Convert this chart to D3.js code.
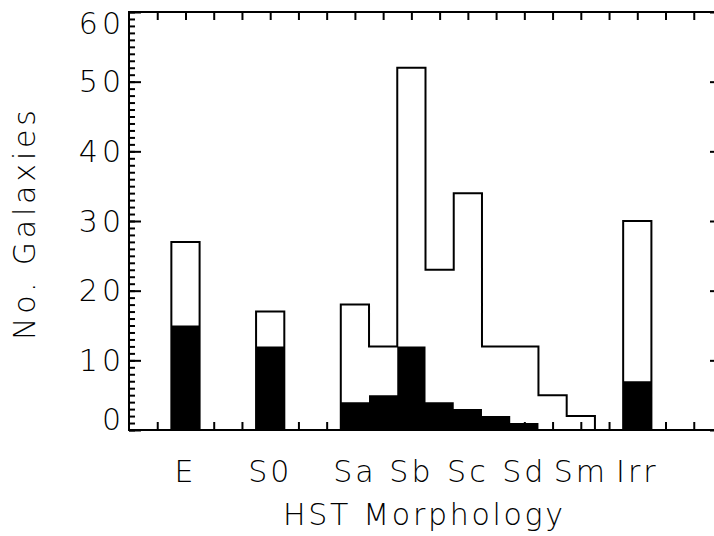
<!DOCTYPE html>
<html><head><meta charset="utf-8">
<script src="https://cdn.jsdelivr.net/npm/d3@7"></script>
<style>
html,body{margin:0;padding:0;background:#fff;}
svg{display:block;}
text{font-family:"DejaVu Sans",sans-serif;font-weight:200;fill:#000;}
</style></head>
<body>
<script>
// bin index (0..20) along the x axis
const bins = d3.range(0, 21);
// total number of galaxies per bin (open histogram)
const totalCounts = [0,0,27,0,0,17,0,0,18,12,52,23,34,12,12,5,2,0,30,0,0];
// sub-sample per bin (filled histogram)
const filledCounts = [0,0,15,0,0,12,0,0,4,5,12,4,3,2,1,0,0,0,7,0,0];
// category labels and the bins they sit under
const tickLabels = ["E","S0","Sa","Sb","Sc","Sd","Sm","Irr"];
const tickBins = [2,5,8,10,12,14,16,18];
const yTicks = [0,10,20,30,40,50,60];

const W = 714, H = 536;
const m = {left:129, top:12, right:722, bottom:430};
const FONT = '"DejaVu Sans",sans-serif';

const svg = d3.select("body").append("svg").attr("width",W).attr("height",H);

const x = d3.scaleLinear().domain([0,21]).range([m.left,m.right]);
const y = d3.scaleLinear().domain([0,60]).range([m.bottom,m.top]);

function stepPoints(vals){
  const pts = [];
  vals.forEach((v,i)=>{ pts.push([Math.max(0,bins[i]-0.5), v]); pts.push([bins[i]+0.5, v]); });
  return pts;
}

// filled histogram
const area = d3.area().x(d=>x(d[0])).y0(y(0)).y1(d=>y(d[1]));
svg.append("path").datum(stepPoints(filledCounts))
  .attr("d",area).attr("fill","#000");

// open histogram outline
const line = d3.line().x(d=>x(d[0])).y(d=>y(d[1]));
svg.append("path").datum(stepPoints(totalCounts))
  .attr("d",line).attr("fill","none").attr("stroke","#000").attr("stroke-width",2);

// ticks: x (inward on bottom and top)
const xt = d3.range(1,21);
const gx = svg.append("g").attr("transform",`translate(0,${m.bottom})`)
  .call(d3.axisBottom(x).tickValues(xt).tickSize(-8).tickFormat(""));
const gxt = svg.append("g").attr("transform",`translate(0,${m.top})`)
  .call(d3.axisTop(x).tickValues(xt).tickSize(-8).tickFormat(""));
// y minor and major ticks, left and right
const yMinor = d3.range(0,61);
const gyl = svg.append("g").attr("transform",`translate(${m.left},0)`)
  .call(d3.axisLeft(y).tickValues(yMinor).tickSize(-6).tickFormat(""));
const gylM = svg.append("g").attr("transform",`translate(${m.left},0)`)
  .call(d3.axisLeft(y).tickValues(yTicks).tickSize(-12).tickFormat(""));
const gyr = svg.append("g").attr("transform",`translate(${m.right},0)`)
  .call(d3.axisRight(y).tickValues(yMinor).tickSize(-6).tickFormat(""));
const gyrM = svg.append("g").attr("transform",`translate(${m.right},0)`)
  .call(d3.axisRight(y).tickValues(yTicks).tickSize(-12).tickFormat(""));
[gx,gxt,gyl,gylM,gyr,gyrM].forEach(g=>{
  g.select(".domain").remove();
  g.selectAll(".tick line").attr("stroke","#000").attr("stroke-width",2);
});

// frame
svg.append("rect").attr("x",m.left).attr("y",m.top)
  .attr("width",m.right-m.left).attr("height",m.bottom-m.top)
  .attr("fill","none").attr("stroke","#000").attr("stroke-width",2);

// y tick labels (end labels kept inside the frame height)
const half = 11;
const gyLab = svg.append("g").attr("transform",`translate(${m.left},0)`)
  .call(d3.axisLeft(y).tickValues(yTicks).tickSize(0).tickPadding(4).tickFormat(d3.format("d")));
gyLab.select(".domain").remove();
gyLab.selectAll(".tick").attr("transform",d=>{
  const yy = Math.min(m.bottom-half, Math.max(m.top+half, y(d)));
  return `translate(0,${yy})`;
});
gyLab.selectAll("text").attr("font-size",30).attr("dy","0.36em")
  .style("font-family",FONT).style("font-weight",200).style("letter-spacing","4px");

// x category labels
const ls = 3;
const gxLab = svg.append("g").attr("transform",`translate(0,${m.bottom})`)
  .call(d3.axisBottom(x).tickValues(tickBins).tickSize(0).tickFormat((d,i)=>tickLabels[i]));
gxLab.select(".domain").remove();
gxLab.selectAll("text").attr("font-size",30).attr("y",52).attr("dy",0).attr("dx",ls/2 - 2)
  .style("font-family",FONT).style("font-weight",200).style("letter-spacing",ls+"px");

// axis titles
svg.append("text").attr("x",423).attr("y",525)
  .attr("text-anchor","middle").attr("font-size",30)
  .attr("textLength",280).attr("lengthAdjust","spacing").text("HST Morphology");
svg.append("text").attr("transform","translate(35,225) rotate(-90)")
  .attr("text-anchor","middle").attr("font-size",30)
  .attr("textLength",230).attr("lengthAdjust","spacing").text("No. Galaxies");
</script>
</body></html>
